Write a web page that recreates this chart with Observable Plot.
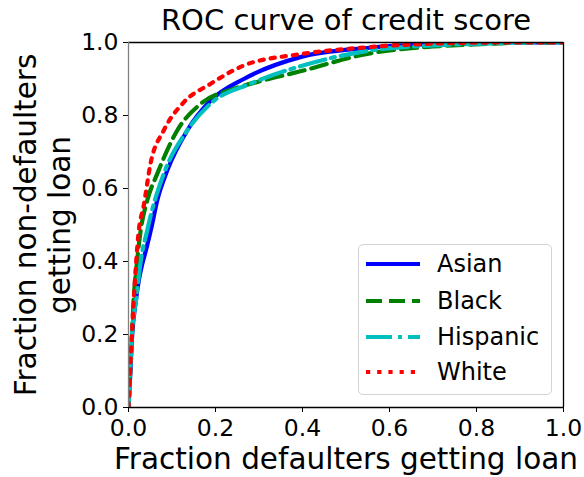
<!DOCTYPE html>
<html><head><meta charset="utf-8">
<script src="https://cdn.jsdelivr.net/npm/d3@7"></script>
<script src="https://cdn.jsdelivr.net/npm/@observablehq/plot@0.6"></script>
<style>
body{margin:0;background:#fff;font-family:"DejaVu Sans",sans-serif;}
#wrap{position:relative;width:584px;height:477px;}
#legend{position:absolute;left:358px;top:244px;width:194px;height:151px;border:1px solid #d3d3d3;border-radius:5px;background:rgba(255,255,255,0.8);box-sizing:border-box;}
.row{position:absolute;left:0;height:36px;display:flex;align-items:center;font-size:24px;color:#000;}
.row svg{margin-left:7px;margin-right:17px;}
</style></head><body><div id="wrap"></div>
<script>
const groups = ["Asian", "Black", "Hispanic", "White"];
const colors = ["#0000ff", "#008000", "#00bfbf", "#ff0000"];
const dashes = [null, "16,7", "26,6,4,6", "4.2,7"];

const asianX = [0, 0.003, 0.0085, 0.016, 0.024, 0.031, 0.041, 0.054, 0.066, 0.089, 0.135, 0.189, 0.265, 0.395, 0.549, 0.70, 0.85, 1];
const asianY = [0, 0.065, 0.2, 0.285, 0.35, 0.39, 0.435, 0.5, 0.567, 0.649, 0.759, 0.841, 0.9, 0.96, 0.985, 0.996, 1.0, 1];
const blackX = [0, 0.004, 0.008, 0.012, 0.018, 0.028, 0.043, 0.066, 0.112, 0.166, 0.242, 0.3, 0.395, 0.549, 0.70, 0.825, 0.9, 1];
const blackY = [0, 0.1, 0.2, 0.3, 0.38, 0.485, 0.567, 0.64, 0.759, 0.832, 0.873, 0.893, 0.921, 0.969, 0.989, 0.996, 1.0, 1];
const hispanicX = [0, 0.004, 0.008, 0.018, 0.028, 0.043, 0.05, 0.081, 0.135, 0.189, 0.28, 0.395, 0.549, 0.70, 0.85, 0.92, 1];
const hispanicY = [0, 0.1, 0.2, 0.3, 0.40, 0.485, 0.521, 0.64, 0.759, 0.833, 0.887, 0.935, 0.977, 0.992, 0.998, 1.0, 1];
const whiteX = [0, 0.006, 0.012, 0.0237, 0.035, 0.0506, 0.081, 0.127, 0.189, 0.265, 0.395, 0.549, 0.70, 0.85, 1];
const whiteY = [0, 0.156, 0.293, 0.485, 0.553, 0.668, 0.759, 0.836, 0.887, 0.937, 0.968, 0.987, 0.997, 1.0, 1];

const xTicks = [0, 0.2, 0.4, 0.6, 0.8, 1.0];
const yTicks = [0, 0.2, 0.4, 0.6, 0.8, 1.0];
const title = "ROC curve of credit score";
const xLabel = "Fraction defaulters getting loan";
const yLabel = "Fraction non-defaulters\ngetting loan";

const seriesX = [asianX, blackX, hispanicX, whiteX];
const seriesY = [asianY, blackY, hispanicY, whiteY];
const rows = [];
groups.forEach((g, i) => seriesX[i].forEach((x, j) => rows.push({group: g, x, y: seriesY[i][j]})));

const fmt = d3.format(".1f");
const chart = Plot.plot({
  width: 584, height: 477,
  marginLeft: 128, marginRight: 21, marginTop: 42, marginBottom: 70,
  x: {domain: [0, 1]},
  y: {domain: [0, 1]},
  style: {fontFamily: "DejaVu Sans", background: "white", color: "black"},
  marks: [
    Plot.axisX({ticks: xTicks, tickFormat: fmt, tickSize: 5, tickPadding: 7, fontSize: 23.5, label: null}),
    Plot.axisY({ticks: yTicks, tickFormat: fmt, tickSize: 5, tickPadding: 5, fontSize: 23.5, label: null}),
    ...groups.map((g, i) => Plot.line(rows.filter(d => d.group === g), {
      x: "x", y: "y", stroke: colors[i], strokeWidth: 4.2,
      strokeDasharray: dashes[i] || undefined, curve: "monotone-x", clip: true
    })),
    Plot.ruleY([0, 1], {stroke: "black", strokeWidth: 1.3}),
    Plot.ruleX([1], {stroke: "black", strokeWidth: 1.3}),
    Plot.ruleX([0], {stroke: "#808080", strokeWidth: 1.3}),
    Plot.text([title], {text: d => d, frameAnchor: "top", dy: -13, lineAnchor: "bottom", fontSize: 29}),
    Plot.text([xLabel], {text: d => d, frameAnchor: "bottom", dy: 61, lineAnchor: "bottom", fontSize: 29.5}),
    Plot.text([yLabel], {text: d => d, frameAnchor: "left", textAnchor: "middle", dx: -86, rotate: -90, lineAnchor: "middle", fontSize: 29.5, lineHeight: 1.15})
  ]
});
const wrap = document.getElementById("wrap");
wrap.appendChild(chart);

const legend = document.createElement("div");
legend.id = "legend";
const rowTops = [1, 38, 74, 109];
groups.forEach((g, i) => {
  const row = document.createElement("div");
  row.className = "row";
  row.style.top = rowTops[i] + "px";
  const dash = dashes[i] ? ` stroke-dasharray="${dashes[i]}"` : "";
  row.innerHTML = `<svg width="54" height="10"><line x1="0" y1="5" x2="54" y2="5" stroke="${colors[i]}" stroke-width="4.2"${dash}/></svg><span>${g}</span>`;
  legend.appendChild(row);
});
wrap.appendChild(legend);
</script>
</body></html>
